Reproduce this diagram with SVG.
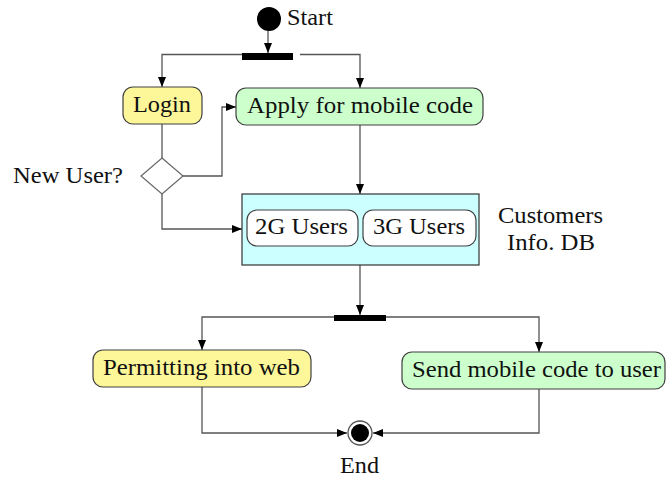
<svg xmlns="http://www.w3.org/2000/svg" width="666" height="479" viewBox="0 0 666 479">
  <style>
    .lbl { font-family: "Times New Roman", "Liberation Serif", Tinos, "Nimbus Roman", "Noto Serif", FreeSerif, serif; font-size: 23px; fill: #111; }
    .act { stroke: #404040; stroke-width: 1.2; }
    .yellow { fill: #fdf79a; }
    .green { fill: #ccffcc; }
    .conn { fill: none; stroke: #555; stroke-width: 1.3; }
    .bar { fill: #000; }
  </style>
  <defs>
    <marker id="arrow" viewBox="0 0 10 8" refX="10" refY="4" markerWidth="10" markerHeight="8" markerUnits="userSpaceOnUse" orient="auto">
      <path d="M0,0 L10,4 L0,8 z" fill="#000"/>
    </marker>
  </defs>

  <!-- connectors -->
  <g id="connectors">
    <path class="conn" d="M268,31 V53" marker-end="url(#arrow)"/>
    <path class="conn" d="M242,54.5 H162 V87" marker-end="url(#arrow)"/>
    <path class="conn" d="M300,54.5 H360 V88" marker-end="url(#arrow)"/>
    <path class="conn" d="M162,124 V158"/>
    <path class="conn" d="M183,176 H222 V107 H236" marker-end="url(#arrow)"/>
    <path class="conn" d="M162,194 V229 H242" marker-end="url(#arrow)"/>
    <path class="conn" d="M360,125 V194" marker-end="url(#arrow)"/>
    <path class="conn" d="M360,265 V315" marker-end="url(#arrow)"/>
    <path class="conn" d="M334,317 H202 V350" marker-end="url(#arrow)"/>
    <path class="conn" d="M386,317 H539 V352" marker-end="url(#arrow)"/>
    <path class="conn" d="M202,387 V433 H347" marker-end="url(#arrow)"/>
    <path class="conn" d="M539,389 V433 H373" marker-end="url(#arrow)"/>
  </g>

  <!-- initial node -->
  <g id="start">
    <circle cx="269" cy="19" r="12" fill="#000"/>
    <text class="lbl" x="287" y="25" textLength="46" lengthAdjust="spacingAndGlyphs">Start</text>
  </g>

  <!-- fork bar -->
  <g id="fork">
    <rect class="bar" x="242" y="53" width="51" height="7"/>
  </g>

  <g id="login">
    <rect class="act yellow" x="123" y="87" width="79" height="37" rx="10"/>
    <text class="lbl" x="133" y="112" textLength="58" lengthAdjust="spacingAndGlyphs">Login</text>
  </g>

  <g id="apply">
    <rect class="act green" x="236" y="88" width="247" height="37" rx="10"/>
    <text class="lbl" x="247" y="113" textLength="226" lengthAdjust="spacingAndGlyphs">Apply for mobile code</text>
  </g>

  <!-- decision -->
  <g id="new-user">
    <polygon points="162,158 183,176 162,194 141,176" fill="#fff" stroke="#666" stroke-width="1.2"/>
    <text class="lbl" x="13" y="183" textLength="110" lengthAdjust="spacingAndGlyphs">New User?</text>
  </g>

  <!-- customers database -->
  <g id="customers-db">
    <rect x="242" y="194" width="237" height="71" fill="#ccffff" stroke="#333" stroke-width="1.2"/>
    <rect class="act" x="247" y="210" width="111" height="36" rx="10" fill="#fff"/>
    <text class="lbl" x="255" y="234" textLength="93" lengthAdjust="spacingAndGlyphs">2G Users</text>
    <rect class="act" x="363" y="210" width="113" height="36" rx="10" fill="#fff"/>
    <text class="lbl" x="373" y="234" textLength="92" lengthAdjust="spacingAndGlyphs">3G Users</text>
    <text class="lbl" x="498" y="223" textLength="105" lengthAdjust="spacingAndGlyphs">Customers</text>
    <text class="lbl" x="507" y="250" textLength="88" lengthAdjust="spacingAndGlyphs">Info. DB</text>
  </g>

  <g id="fork2">
    <rect class="bar" x="334" y="315" width="52" height="6"/>
  </g>

  <g id="permit">
    <rect class="act yellow" x="93" y="350" width="218" height="37" rx="10"/>
    <text class="lbl" x="103" y="375" textLength="197" lengthAdjust="spacingAndGlyphs">Permitting into web</text>
  </g>

  <g id="send-code">
    <rect class="act green" x="402" y="352" width="263" height="37" rx="10"/>
    <text class="lbl" x="412" y="377" textLength="249" lengthAdjust="spacingAndGlyphs">Send mobile code to user</text>
  </g>

  <!-- final node -->
  <g id="end">
    <circle cx="360" cy="433" r="12" fill="#fff" stroke="#555" stroke-width="1.3"/>
    <circle cx="360" cy="433" r="9" fill="#000"/>
    <text class="lbl" x="340" y="473" textLength="39" lengthAdjust="spacingAndGlyphs">End</text>
  </g>
</svg>
